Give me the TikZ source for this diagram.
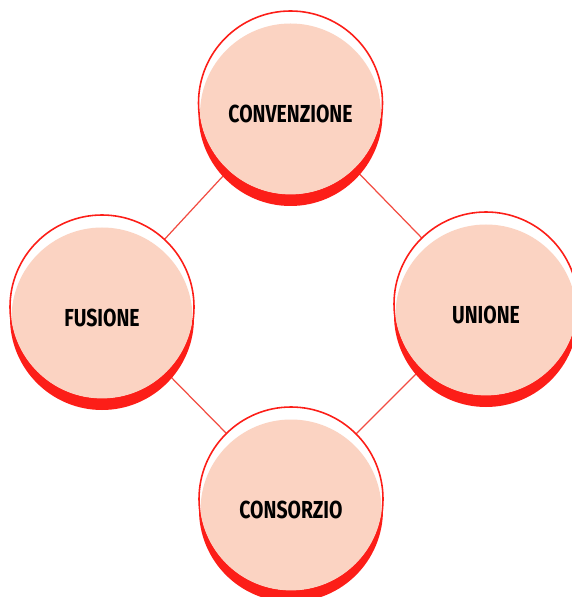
\documentclass[tikz,border=0pt]{standalone}
\usepackage{fontspec}
\usepackage{tikz}
\newfontfamily\lblfont[FakeStretch=0.79]{Fira Sans}
\definecolor{bubred}{RGB}{252,30,24}
\definecolor{bubsalmon}{RGB}{251,211,194}
\definecolor{linkred}{RGB}{242,76,66}

\tikzset{
	link/.style={draw=linkred,line width=0.7pt},
	lbl/.style={font=\lblfont\bfseries\fontsize{14}{16}\selectfont,text=black,inner sep=0pt}
}

% one bubble: centre, node name, text
\newcommand{\bubble}[3]{%
	\begin{scope}[shift={(#1)}]
		\fill[bubred] (0,11) circle (92);
		\filldraw[fill=white,draw=bubred,line width=0.9pt] (0,0) circle (92);
		\begin{scope}
			\clip (0,0) circle (91.4);
			\fill[bubsalmon] (0,11) circle (90.5);
		\end{scope}
		\node[lbl] (#2) at (0,11) {#3};
	\end{scope}}

\begin{document}
\begin{tikzpicture}[x=0.02cm,y=-0.02cm]
		\useasboundingbox (0,0) rectangle (571,597);
		\coordinate (ctop) at (290.5,103);
		\coordinate (cleft) at (102,307);
		\coordinate (cright) at (486,304);
		\coordinate (cbottom) at (291,499);
		\draw[link] (ctop) -- (cleft) -- (cbottom) -- (cright) -- (ctop);
		\bubble{ctop}{convenzione}{CONVENZIONE}
		\bubble{cleft}{fusione}{FUSIONE}
		\bubble{cright}{unione}{UNIONE}
		\bubble{cbottom}{consorzio}{CONSORZIO}
	\end{tikzpicture}
\end{document}
